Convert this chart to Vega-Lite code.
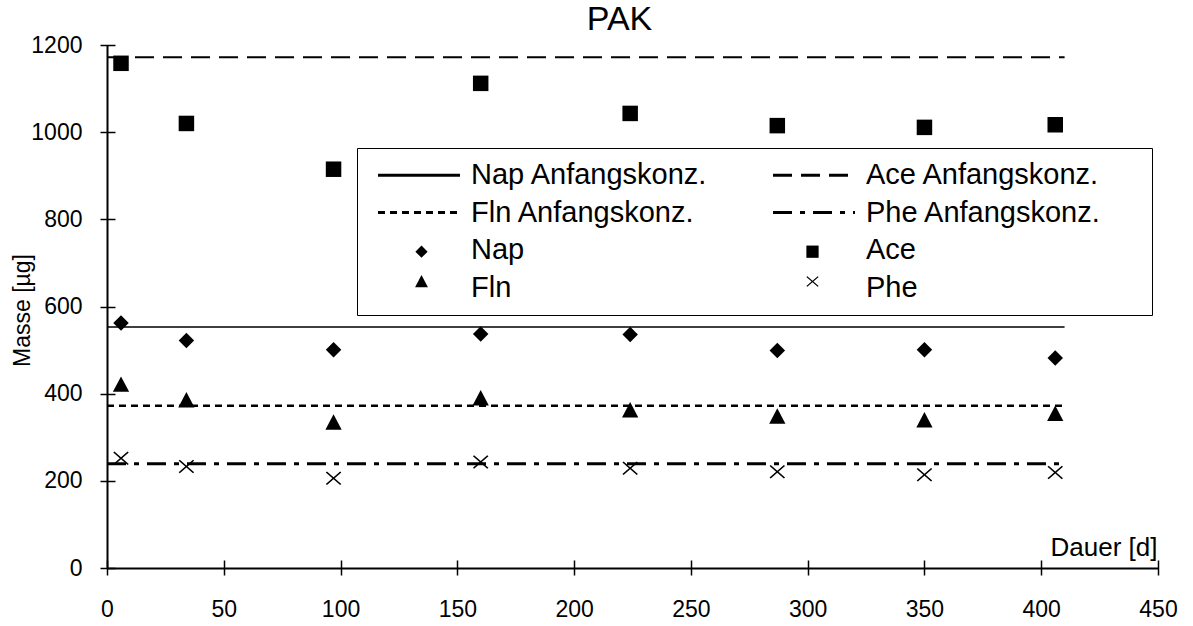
{
  "$schema": "https://vega.github.io/schema/vega-lite/v6.json",
  "width": 1051,
  "height": 523,
  "autosize": {"type": "none"},
  "padding": {"left": 107, "top": 45, "right": 35, "bottom": 58},
  "background": "white",
  "config": {
    "view": {"stroke": null},
    "font": "Liberation Sans",
    "axis": {"labelFont": "Liberation Sans", "titleFont": "Liberation Sans", "labelColor": "black", "titleColor": "black", "tickColor": "black", "titleFontWeight": "normal"}
  },
  "title": {"text": "PAK", "fontSize": 34, "font": "Liberation Sans", "fontWeight": "normal", "color": "black", "anchor": "middle", "frame": "group", "dx": -13, "dy": 33, "baseline": "alphabetic", "offset": 3},
  "data": {"values": [
    {"kind": "line", "series": "Nap Anfangskonz.", "day": 0, "mass": 553},
    {"kind": "line", "series": "Nap Anfangskonz.", "day": 410, "mass": 553},
    {"kind": "line", "series": "Ace Anfangskonz.", "day": 0, "mass": 1172},
    {"kind": "line", "series": "Ace Anfangskonz.", "day": 410, "mass": 1172},
    {"kind": "line", "series": "Fln Anfangskonz.", "day": 0, "mass": 372},
    {"kind": "line", "series": "Fln Anfangskonz.", "day": 410, "mass": 372},
    {"kind": "line", "series": "Phe Anfangskonz.", "day": 0, "mass": 239},
    {"kind": "line", "series": "Phe Anfangskonz.", "day": 410, "mass": 239},
    {"kind": "point", "series": "Nap", "day": 6, "mass": 562},
    {"kind": "point", "series": "Nap", "day": 34, "mass": 522},
    {"kind": "point", "series": "Nap", "day": 97, "mass": 501},
    {"kind": "point", "series": "Nap", "day": 160, "mass": 537},
    {"kind": "point", "series": "Nap", "day": 224, "mass": 536},
    {"kind": "point", "series": "Nap", "day": 287, "mass": 499},
    {"kind": "point", "series": "Nap", "day": 350, "mass": 501},
    {"kind": "point", "series": "Nap", "day": 406, "mass": 482},
    {"kind": "point", "series": "Ace", "day": 6, "mass": 1158},
    {"kind": "point", "series": "Ace", "day": 34, "mass": 1020},
    {"kind": "point", "series": "Ace", "day": 97, "mass": 915},
    {"kind": "point", "series": "Ace", "day": 160, "mass": 1112},
    {"kind": "point", "series": "Ace", "day": 224, "mass": 1043},
    {"kind": "point", "series": "Ace", "day": 287, "mass": 1015},
    {"kind": "point", "series": "Ace", "day": 350, "mass": 1011},
    {"kind": "point", "series": "Ace", "day": 406, "mass": 1017},
    {"kind": "point", "series": "Fln", "day": 6, "mass": 421},
    {"kind": "point", "series": "Fln", "day": 34, "mass": 385},
    {"kind": "point", "series": "Fln", "day": 97, "mass": 334},
    {"kind": "point", "series": "Fln", "day": 160, "mass": 390},
    {"kind": "point", "series": "Fln", "day": 224, "mass": 362},
    {"kind": "point", "series": "Fln", "day": 287, "mass": 348},
    {"kind": "point", "series": "Fln", "day": 350, "mass": 339},
    {"kind": "point", "series": "Fln", "day": 406, "mass": 354},
    {"kind": "point", "series": "Phe", "day": 6, "mass": 252},
    {"kind": "point", "series": "Phe", "day": 34, "mass": 233},
    {"kind": "point", "series": "Phe", "day": 97, "mass": 206},
    {"kind": "point", "series": "Phe", "day": 160, "mass": 243},
    {"kind": "point", "series": "Phe", "day": 224, "mass": 229},
    {"kind": "point", "series": "Phe", "day": 287, "mass": 221},
    {"kind": "point", "series": "Phe", "day": 350, "mass": 214},
    {"kind": "point", "series": "Phe", "day": 406, "mass": 219}
  ]},
  "encoding": {
    "x": {"field": "day", "type": "quantitative", "scale": {"domain": [0, 450], "nice": false},
      "axis": {"values": [0, 50, 100, 150, 200, 250, 300, 350, 400, 450], "format": "d", "offset": -8, "tickSize": 15, "tickWidth": 1.5, "domain": false,
        "grid": true, "gridColor": "black", "gridWidth": 2, "gridOpacity": {"condition": {"test": "datum.value === 0", "value": 1}, "value": 0},
        "labelFontSize": 23, "labelBaseline": "alphabetic", "labelPadding": 41, "labelFlush": false, "labelOverlap": false,
        "title": "Dauer [d]", "titleFontSize": 26, "titleX": 1050, "titleY": -5, "titleAlign": "right", "titleBaseline": "alphabetic"}},
    "y": {"field": "mass", "type": "quantitative", "scale": {"domain": [0, 1200], "nice": false},
      "axis": {"values": [0, 200, 400, 600, 800, 1000, 1200], "format": "d", "offset": -8, "tickSize": 15, "tickWidth": 1.5, "domain": false,
        "grid": true, "gridColor": "black", "gridWidth": 2, "gridOpacity": {"condition": {"test": "datum.value === 0", "value": 1}, "value": 0},
        "labelFontSize": 23, "labelPadding": 18, "labelFlush": false, "labelOverlap": false,
        "title": "Masse [µg]", "titleFontSize": 23, "titleAngle": -90, "titleX": -86, "titleY": 265, "titleAlign": "center", "titleBaseline": "alphabetic"}}
  },
  "layer": [
    {
      "transform": [{"filter": "datum.kind === 'line'"}],
      "mark": {"type": "line", "color": "black", "opacity": 1},
      "encoding": {
        "strokeDash": {"field": "series", "type": "nominal",
          "scale": {"domain": ["Nap Anfangskonz.", "Ace Anfangskonz.", "Fln Anfangskonz.", "Phe Anfangskonz.", "Nap", "Ace", "Fln", "Phe"],
            "range": [[1, 0], [19, 9], [7, 5], [19, 8, 5, 8], [0, 1], [0, 1], [0, 1], [0, 1]]},
          "legend": {"title": null, "orient": "none", "direction": "horizontal", "legendX": 250, "legendY": 103, "columns": 2,
            "strokeColor": "black", "padding": 12.5,
            "rowPadding": 7.5, "columnPadding": 20, "labelOffset": 37.5, "symbolOffset": 35, "symbolSize": 100,
            "symbolType": "M-8.2,0L8.2,0M63.8,0", "symbolStrokeWidth": 3, "symbolStrokeColor": "black", "symbolOpacity": 1,
            "labelFont": "Liberation Sans", "labelFontSize": 29, "labelColor": "black", "labelLimit": 700}},
        "strokeWidth": {"field": "series", "type": "nominal",
          "scale": {"domain": ["Nap Anfangskonz.", "Ace Anfangskonz.", "Fln Anfangskonz.", "Phe Anfangskonz."], "range": [1.5, 3, 3, 3]},
          "legend": null}
      }
    },
    {
      "transform": [{"filter": "datum.kind === 'point'"}],
      "mark": {"type": "point", "filled": true, "fill": "black", "strokeWidth": 0, "size": 240, "opacity": 1},
      "encoding": {
        "shape": {"field": "series", "type": "nominal",
          "scale": {"domain": ["Nap", "Ace", "Fln", "Phe"],
            "range": ["diamond", "square", "M0,-1.05L1.05,0.95L-1.05,0.95Z", "M-1,-0.74L-0.85,-0.87L0,-0.13L0.85,-0.87L1,-0.74L0.15,0L1,0.74L0.85,0.87L0,0.13L-0.85,0.87L-1,0.74L-0.15,0Z"]},
          "legend": {"title": null, "orient": "none", "direction": "horizontal", "legendX": 308, "legendY": 200, "columns": 2,
            "padding": 0, "rowPadding": 17, "columnPadding": 378, "labelOffset": 0, "symbolOffset": 0,
            "symbolSize": 150, "symbolStrokeWidth": 0, "symbolFillColor": "black", "symbolOpacity": 1,
            "labelFontSize": 10, "labelExpr": "''"}}
      }
    }
  ]
}
